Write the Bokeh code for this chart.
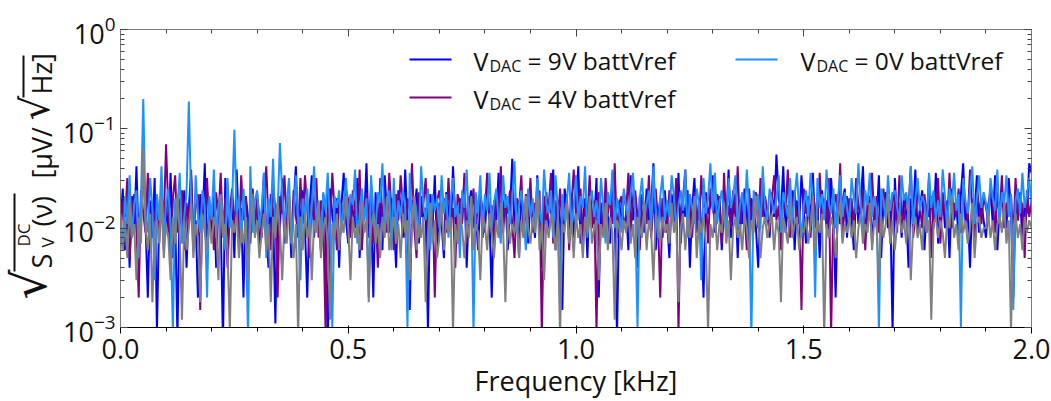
import numpy as np
from bokeh.plotting import figure
from bokeh.layouts import row
from bokeh.models import (Range1d, LinearAxis, LogAxis, Label, BoxAnnotation,
                          PrintfTickFormatter, CustomJSTickFormatter,
                          SingleIntervalTicker, LogTicker)
from bokeh.embed import file_html
from bokeh.resources import INLINE

F_MIN, F_MAX = 0.0, 2.0

# V_DAC = 9V battVref (blue)
v9 = [
    .012,.025,.006,.018,.004,.021,.009,.042,.007,.015,.047,.011,.002,.019,.008,.032,.0009,.014,.022,.006,
    .017,.009,.036,.005,.013,.0008,.020,.010,.024,.004,.016,.034,.007,.012,.002,.022,.011,.045,.006,.015,
    .009,.023,.004,.018,.012,.0007,.032,.008,.014,.020,.005,.039,.010,.016,.002,.021,.013,.007,.025,.011,
    .019,.006,.013,.036,.009,.004,.022,.015,.0011,.018,.010,.032,.007,.014,.021,.005,.017,.042,.008,.012,
    .024,.010,.002,.016,.034,.008,.019,.013,.006,.022,.011,.0006,.025,.014,.009,.020,.004,.017,.036,.012,
    .007,.021,.015,.010,.032,.005,.018,.012,.045,.008,.016,.002,.023,.011,.019,.006,.034,.014,.009,.020,
    .013,.004,.024,.017,.008,.039,.011,.0015,.019,.014,.025,.007,.021,.012,.016,.0009,.022,.010,.034,.006,
    .018,.011,.005,.023,.015,.009,.042,.013,.007,.020,.012,.032,.004,.017,.024,.010,.014,.006,.021,.016,
    .009,.025,.013,.002,.019,.012,.036,.008,.016,.022,.006,.014,.050,.010,.018,.005,.024,.011,.015,.007,
    .021,.014,.008,.034,.011,.004,.017,.023,.009,.013,.039,.006,.019,.012,.0015,.025,.016,.010,.022,.008,
    .015,.042,.007,.012,.020,.005,.024,.014,.011,.032,.002,.018,.009,.022,.013,.007,.036,.015,.0008,.019,
    .010,.023,.016,.006,.034,.012,.019,.004,.021,.014,.009,.025,.011,.017,.045,.006,.013,.020,.008,.024,
    .012,.005,.022,.015,.010,.036,.007,.018,.013,.024,.004,.016,.032,.009,.020,.011,.002,.023,.014,.017,
    .034,.009,.014,.021,.006,.017,.012,.039,.008,.015,.022,.005,.019,.011,.025,.013,.007,.020,.016,.010,
    .004,.018,.032,.011,.016,.008,.023,.013,.055,.020,.014,.042,.009,.017,.012,.024,.006,.019,.011,.034,
    .015,.007,.021,.012,.036,.010,.016,.005,.024,.013,.019,.009,.032,.014,.002,.022,.011,.018,.025,.008,
    .020,.013,.006,.025,.011,.017,.042,.009,.014,.021,.007,.016,.012,.034,.005,.019,.023,.010,.015,.0009,
    .032,.011,.018,.008,.022,.014,.004,.020,.012,.039,.009,.016,.024,.006,.017,.013,.021,.010,.036,.007,
    .014,.023,.010,.019,.005,.025,.012,.017,.008,.022,.045,.011,.015,.004,.020,.013,.034,.009,.018,.012,
    .008,.017,.024,.011,.034,.006,.016,.021,.013,.010,.032,.015,.002,.019,.012,.023,.007,.018,.014,.045,
    .036,
]

# V_DAC = 4V battVref (purple)
v4 = [
    .008,.019,.013,.032,.005,.016,.022,.010,.002,.024,.014,.009,.036,.006,.017,.012,.021,.007,.025,.011,
    .070,.015,.004,.020,.034,.009,.013,.024,.006,.018,.011,.039,.008,.016,.022,.0015,.019,.012,.032,.010,
    .017,.006,.023,.013,.036,.009,.020,.004,.015,.025,.011,.018,.007,.034,.012,.021,.005,.016,.024,.009,
    .022,.013,.008,.019,.042,.011,.006,.025,.016,.002,.021,.014,.034,.010,.018,.007,.024,.013,.009,.032,
    .011,.034,.016,.005,.021,.012,.032,.008,.019,.014,.001,.023,.010,.036,.015,.006,.020,.017,.012,.025,
    .019,.008,.024,.014,.010,.039,.006,.017,.022,.011,.025,.007,.016,.004,.032,.013,.020,.009,.036,.015,
    .006,.022,.012,.034,.017,.008,.020,.015,.045,.010,.005,.023,.013,.018,.032,.009,.014,.021,.002,.019,
    .024,.014,.020,.009,.032,.012,.016,.004,.022,.018,.011,.036,.007,.021,.013,.025,.010,.017,.023,.008,
    .015,.036,.010,.017,.006,.023,.013,.042,.009,.019,.014,.024,.011,.005,.020,.016,.034,.008,.022,.012,
    .032,.009,.018,.013,.024,.0008,.021,.011,.016,.036,.007,.019,.012,.025,.010,.015,.022,.006,.017,.039,
    .013,.020,.025,.007,.016,.012,.034,.010,.019,.0009,.023,.015,.009,.032,.014,.020,.011,.045,.008,.018,
    .021,.010,.014,.036,.009,.019,.024,.013,.006,.022,.016,.011,.034,.008,.018,.025,.012,.002,.020,.015,
    .009,.024,.017,.012,.032,.0009,.015,.020,.039,.011,.018,.008,.023,.014,.010,.034,.016,.021,.007,.025,
    .016,.012,.022,.018,.007,.036,.011,.017,.010,.024,.013,.042,.009,.020,.015,.006,.025,.012,.019,.023,
    .010,.032,.013,.021,.015,.009,.019,.034,.012,.017,.006,.022,.014,.039,.008,.018,.024,.011,.016,.0015,
    .025,.014,.019,.008,.023,.016,.011,.036,.013,.020,.010,.032,.0008,.017,.022,.012,.045,.009,.015,.021,
    .012,.020,.010,.032,.017,.013,.024,.006,.019,.015,.036,.011,.021,.009,.016,.025,.013,.018,.007,.023,
    .018,.009,.034,.014,.011,.021,.016,.042,.008,.013,.024,.017,.010,.022,.012,.034,.005,.019,.014,.032,
    .007,.022,.015,.011,.036,.010,.018,.013,.025,.009,.020,.016,.012,.039,.014,.008,.023,.017,.011,.021,
    .016,.012,.025,.019,.009,.023,.013,.034,.010,.018,.015,.022,.008,.032,.012,.020,.017,.005,.024,.013,
    .019,
]

# V_DAC = 0V battVref (light blue)
v0 = [
    .014,.006,.021,.011,.034,.008,.017,.024,.005,.019,.200,.013,.009,.032,.016,.003,.022,.012,.042,.007,
    .018,.025,.010,.0009,.020,.015,.036,.007,.013,.023,.188,.019,.006,.034,.014,.009,.024,.016,.002,.021,
    .012,.039,.008,.017,.022,.013,.006,.032,.010,.018,.098,.014,.021,.007,.025,.011,.0008,.042,.009,.019,
    .024,.010,.016,.036,.005,.020,.013,.050,.009,.015,.072,.022,.011,.018,.032,.007,.014,.034,.012,.003,
    .020,.013,.025,.008,.017,.042,.011,.019,.006,.023,.015,.036,.010,.001,.021,.016,.024,.009,.018,.032,
    .011,.022,.017,.039,.007,.014,.025,.012,.020,.002,.034,.015,.009,.023,.018,.045,.010,.016,.024,.006,
    .032,.009,.019,.013,.024,.016,.001,.036,.011,.021,.014,.008,.042,.017,.012,.025,.006,.022,.015,.020,
    .010,.034,.014,.022,.008,.019,.032,.013,.017,.005,.024,.016,.039,.011,.020,.0009,.023,.014,.034,.009,
    .022,.015,.036,.010,.018,.025,.012,.007,.034,.016,.021,.011,.019,.047,.009,.017,.024,.013,.006,.025,
    .013,.020,.009,.032,.015,.011,.039,.018,.014,.024,.008,.034,.016,.0015,.022,.012,.019,.036,.010,.017,
    .034,.012,.021,.016,.042,.008,.018,.024,.013,.019,.011,.032,.015,.007,.023,.017,.039,.010,.020,.014,
    .009,.025,.016,.012,.022,.036,.014,.001,.020,.032,.013,.018,.024,.010,.042,.015,.008,.021,.034,.012,
    .019,.013,.034,.021,.010,.017,.024,.015,.039,.008,.022,.016,.011,.025,.018,.003,.032,.014,.020,.045,
    .015,.036,.011,.018,.024,.013,.009,.032,.016,.021,.034,.010,.017,.023,.012,.039,.015,.0008,.024,.018,
    .022,.010,.042,.016,.012,.025,.019,.014,.020,.034,.009,.023,.018,.013,.032,.011,.021,.036,.015,.008,
    .017,.024,.013,.036,.020,.002,.032,.016,.022,.012,.039,.018,.014,.025,.010,.020,.034,.013,.023,.016,
    .011,.032,.020,.014,.045,.018,.009,.024,.017,.036,.013,.021,.016,.0009,.025,.019,.012,.034,.015,.022,
    .024,.016,.012,.034,.019,.023,.014,.042,.011,.020,.032,.015,.021,.018,.009,.036,.016,.024,.012,.019,
    .013,.039,.021,.010,.025,.017,.036,.015,.022,.001,.032,.019,.014,.024,.042,.011,.020,.034,.016,.023,
    .018,.012,.032,.020,.015,.039,.011,.023,.017,.034,.013,.022,.0015,.019,.025,.014,.036,.016,.021,.032,
    .017,
]

# unlabelled reference trace (gray)
vgray = [
    .009,.006,.012,.005,.018,.008,.011,.003,.013,.007,.065,.010,.006,.014,.0018,.009,.012,.007,.021,.005,
    .011,.008,.003,.013,.007,.022,.009,.0012,.012,.006,.010,.018,.005,.011,.008,.0018,.014,.009,.006,.012,
    .007,.013,.010,.003,.021,.008,.011,.006,.0009,.012,.009,.014,.005,.010,.007,.013,.003,.011,.022,.008,
    .012,.005,.009,.014,.006,.011,.0018,.013,.008,.018,.010,.003,.012,.007,.021,.009,.005,.011,.0008,.013,
    .006,.014,.008,.011,.003,.012,.009,.018,.005,.010,.013,.007,.0012,.011,.008,.014,.006,.012,.009,.021,
    .010,.003,.013,.008,.011,.006,.018,.009,.012,.0018,.010,.014,.007,.011,.005,.013,.008,.021,.006,.009,
    .013,.007,.011,.005,.014,.009,.012,.003,.010,.021,.006,.011,.008,.013,.0018,.009,.018,.007,.012,.005,
    .008,.018,.006,.012,.009,.013,.0009,.011,.007,.014,.010,.005,.012,.008,.021,.006,.011,.009,.003,.013,
    .011,.006,.014,.009,.005,.012,.008,.018,.010,.0018,.013,.007,.011,.009,.014,.005,.012,.008,.021,.010,
    .007,.013,.009,.021,.006,.011,.003,.012,.008,.014,.010,.006,.013,.0008,.011,.009,.018,.007,.012,.005,
    .014,.008,.011,.005,.013,.009,.021,.007,.010,.012,.003,.011,.008,.018,.006,.013,.009,.0012,.012,.010,
    .006,.012,.009,.014,.007,.011,.005,.013,.010,.008,.018,.006,.012,.009,.003,.014,.011,.007,.013,.009,
    .011,.007,.018,.009,.012,.0018,.010,.014,.006,.013,.008,.011,.021,.005,.012,.009,.013,.007,.0009,.011,
    .008,.014,.006,.011,.009,.018,.007,.012,.003,.010,.013,.008,.011,.006,.014,.010,.005,.012,.009,.021,
    .012,.005,.010,.013,.008,.011,.014,.006,.012,.009,.0018,.013,.010,.007,.018,.008,.011,.013,.006,.010,
    .009,.013,.007,.011,.021,.006,.012,.009,.014,.0008,.011,.008,.013,.010,.005,.012,.018,.007,.011,.009,
    .013,.008,.012,.005,.010,.014,.007,.011,.009,.018,.006,.012,.010,.003,.013,.008,.011,.021,.007,.012,
    .006,.011,.014,.009,.012,.007,.018,.003,.010,.013,.008,.011,.006,.014,.009,.012,.0012,.011,.013,.008,
    .012,.009,.005,.013,.010,.021,.008,.011,.006,.014,.009,.012,.007,.010,.018,.005,.011,.013,.008,.010,
    .010,.014,.008,.012,.006,.011,.013,.009,.018,.007,.012,.0009,.010,.014,.008,.011,.006,.013,.009,.012,
    .010,
]

series = [v9, v4, v0, vgray]
colors = ["#0000ff", "#800080", "#1e90ff", "#808080"]

legend_entries = [("9V battVref", "#0000ff"), ("4V battVref", "#800080"), ("0V battVref", "#1e90ff")]

FONT = "Open Sans"
TXT = "#111111"
AX_COL = "#7a7a7a"
LEFT_W = 59                # width of the left panel holding the y title
F_TOP, F_BOT = 29, 332     # frame top / bottom in page pixels
F_LEFT = 120               # frame left in page pixels
Y_LO, Y_HI = 1e-3, 1.0

# ---------------- main plot ----------------
p = figure(width=1051 - LEFT_W, height=401, x_range=Range1d(F_MIN, F_MAX), y_range=Range1d(Y_LO, Y_HI),
           y_axis_type="log", output_backend="svg", toolbar_location=None,
           min_border_left=F_LEFT - LEFT_W, min_border_right=20,
           min_border_top=F_TOP, min_border_bottom=401 - F_BOT)
p.outline_line_color = AX_COL
p.grid.visible = False

for vals, col in zip(series, colors):
    freq = np.linspace(F_MIN, F_MAX, len(vals))
    p.line(freq, vals, line_color=col, line_width=2)

xt = SingleIntervalTicker(interval=0.5, num_minor_ticks=5)
p.xaxis.ticker = xt
p.xaxis.formatter = PrintfTickFormatter(format="%.1f")
p.xaxis.major_label_standoff = 5
p.xaxis.axis_label = "Frequency [kHz]"
p.xaxis.axis_label_text_font = FONT
p.xaxis.axis_label_text_font_size = "27px"
p.xaxis.axis_label_text_font_style = "normal"
p.xaxis.axis_label_text_color = TXT
p.xaxis.axis_label_standoff = 0

p.yaxis.ticker = LogTicker(num_minor_ticks=10)
p.yaxis.major_label_standoff = 5

for ax in [p.xaxis[0], p.yaxis[0]]:
    ax.major_label_text_font = FONT
    ax.major_label_text_font_size = "27px"
    ax.major_label_text_color = TXT

top = LinearAxis(ticker=xt, formatter=CustomJSTickFormatter(code="return ''"))
right = LogAxis(ticker=LogTicker(num_minor_ticks=10), formatter=CustomJSTickFormatter(code="return ''"))
p.add_layout(top, "above")
p.add_layout(right, "right")
for ax in [top, right]:
    ax.major_label_text_font_size = "1px"
    ax.major_label_standoff = 0

for ax in [p.xaxis[0], p.yaxis[0], top, right]:
    ax.axis_line_color = AX_COL
    ax.major_tick_in = 7
    ax.major_tick_out = 0
    ax.minor_tick_in = 4
    ax.minor_tick_out = 0
    ax.major_tick_line_color = "#444444"
    ax.minor_tick_line_color = "#444444"

# legend drawn by hand (subscripts); screen units relative to the frame (bottom-left origin)
def leg(x_line, x_text, y_line, y_base, label, color):
    p.add_layout(BoxAnnotation(left=x_line - F_LEFT, right=x_line + 42 - F_LEFT,
                               bottom=F_BOT - y_line - 1, top=F_BOT - y_line + 1,
                               left_units="screen", right_units="screen",
                               top_units="screen", bottom_units="screen",
                               fill_color=color, fill_alpha=1.0, line_color=None))
    common = dict(x_units="screen", y_units="screen", text_font=FONT, text_color=TXT,
                  text_baseline="alphabetic", text_align="left")
    p.add_layout(Label(x=x_text - F_LEFT, y=F_BOT - y_base, text="V", text_font_size="25px", **common))
    p.add_layout(Label(x=x_text + 16 - F_LEFT, y=F_BOT - y_base - 5, text="DAC", text_font_size="16px", **common))
    p.add_layout(Label(x=x_text + 54 - F_LEFT, y=F_BOT - y_base, text="= " + label, text_font_size="24.5px", **common))

leg(409, 473, 64, 65, legend_entries[0][0], legend_entries[0][1])
leg(409, 473, 102, 103, legend_entries[1][0], legend_entries[1][1])
leg(735, 800, 64, 65, legend_entries[2][0], legend_entries[2][1])

# ---------------- left panel: rotated y title ----------------
q = figure(width=LEFT_W, height=401, x_range=Range1d(0, LEFT_W), y_range=Range1d(0, 1),
           output_backend="svg", toolbar_location=None,
           x_axis_location=None, y_axis_location=None,
           min_border_left=0, min_border_right=0, min_border_top=F_TOP, min_border_bottom=401 - F_BOT)
q.outline_line_color = None
q.grid.visible = False

A = np.pi / 2
def ylab(x, y, text, size, font=FONT):
    # text box "bottom" edge sits at x (rotated text reads upwards)
    q.add_layout(Label(x=x, y=F_BOT - y, x_units="screen", y_units="screen", text=text, angle=A,
                       text_align="left", text_baseline="bottom",
                       text_font=font, text_font_size=size, text_color=TXT))

def vbar(x, y0, y1):
    q.add_layout(BoxAnnotation(left=x - 1, right=x + 1, bottom=F_BOT - y1, top=F_BOT - y0,
                               left_units="screen", right_units="screen",
                               top_units="screen", bottom_units="screen",
                               fill_color=TXT, fill_alpha=1.0, line_color=None))

ylab(56, 304, "\u221a", "47px", "DejaVu Sans")
ylab(59, 273, "S", "27px")
ylab(34, 251, "DC", "17px")
ylab(58, 252, "V", "17px")
ylab(59, 231, "(\u03bd)", "27px")
ylab(59, 183, "[\u03bcV/", "27px")
ylab(57, 125, "\u221a", "39px", "DejaVu Sans")
ylab(59, 99, "Hz]", "27px")
vbar(14, 198, 276)
vbar(23, 60, 102)

layout = row(q, p, spacing=0)
open("out.html", "w").write(file_html(layout, INLINE))
